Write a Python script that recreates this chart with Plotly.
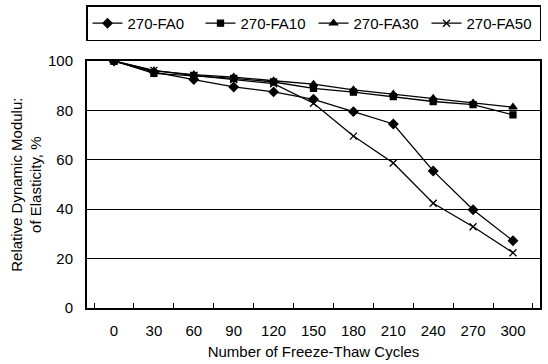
import plotly.graph_objects as go

# Freeze-thaw cycles (category axis) and relative dynamic modulus, %
cycles = ["0", "30", "60", "90", "120", "150", "180", "210", "240", "270", "300"]
fa0 = [100, 95.5, 92.5, 89.5, 87.5, 84.5, 79.5, 74.5, 55.5, 39.8, 27.2]
fa10 = [100, 95.0, 94.0, 93.0, 91.5, 88.9, 87.4, 85.6, 83.6, 82.3, 78.2]
fa30 = [100, 96.0, 94.5, 93.5, 92.0, 90.6, 88.3, 86.6, 84.9, 83.0, 81.3]
fa50 = [100, 96.2, 94.2, 92.5, 90.8, 82.9, 69.6, 58.7, 42.4, 32.9, 22.4]

series = [
    ("270-FA0", fa0, "diamond", 7),
    ("270-FA10", fa10, "square", 6),
    ("270-FA30", fa30, "triangle-up", 7),
    ("270-FA50", fa50, "x-thin-open", 7),
]

FONT = "Liberation Sans, Arial, sans-serif"

fig = go.Figure()
for name, vals, sym, size in series:
    fig.add_trace(go.Scatter(
        x=cycles, y=vals, name=name, mode="lines+markers",
        line=dict(color="black", width=1.3),
        marker=dict(symbol=sym, size=size, color="black",
                    line=dict(color="black", width=1.3)),
    ))

fig.update_layout(
    width=548, height=364,
    margin=dict(l=87, r=6, t=61, b=56),
    paper_bgcolor="white", plot_bgcolor="white",
    font=dict(family=FONT, size=15, color="black"),
    showlegend=True,
    legend=dict(
        orientation="h", x=0.5, xanchor="center", y=1.225, yanchor="top",
        bordercolor="black", borderwidth=1.5, bgcolor="white",
        font=dict(size=15), entrywidth=68, entrywidthmode="pixels",
        itemwidth=30, tracegroupgap=0,
    ),
    annotations=[dict(
        text="Relative Dynamic Modulu:<br>of Elasticity, %",
        xref="paper", yref="paper", x=-0.134, y=0.5,
        xanchor="center", yanchor="middle", textangle=-90,
        showarrow=False, font=dict(size=15),
    )],
)

fig.update_xaxes(
    type="category", categoryorder="array", categoryarray=cycles,
    tickson="boundaries", ticks="inside", ticklen=5, tickcolor="black",
    showline=True, linecolor="black", linewidth=2, mirror=True,
    showgrid=False, tickfont=dict(size=15), ticklabelstandoff=8,
    title=dict(text="Number of Freeze-Thaw Cycles", font=dict(size=15), standoff=8),
)
fig.update_yaxes(
    range=[0, 100], tickvals=[0, 20, 40, 60, 80, 100],
    showline=True, linecolor="black", linewidth=2, mirror=True,
    showgrid=True, gridcolor="black", gridwidth=1, zeroline=False,
    ticks="", ticklabelstandoff=9, tickfont=dict(size=15),
)

fig.write_html("out.html")
